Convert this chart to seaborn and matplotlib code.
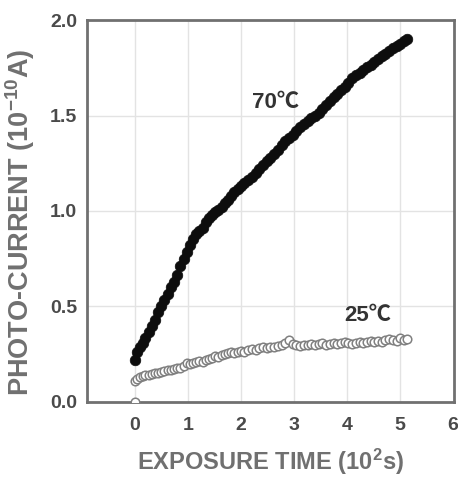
import numpy as np
import pandas as pd
import matplotlib.pyplot as plt
import seaborn as sns

# exposure time (10^2 s) en fotostroom (10^-10 A)
tijd = [0.00, 0.05, 0.10, 0.15, 0.20, 0.26, 0.32, 0.38, 0.44, 0.50,
        0.56, 0.62, 0.68, 0.74, 0.80, 0.86, 0.92, 0.98, 1.04, 1.10,
        1.16, 1.22, 1.28, 1.34, 1.40, 1.46, 1.52, 1.58, 1.64, 1.70,
        1.76, 1.82, 1.88, 1.94, 2.00, 2.07, 2.14, 2.21, 2.28, 2.35,
        2.42, 2.49, 2.56, 2.63, 2.70, 2.77, 2.84, 2.91, 2.98, 3.05,
        3.12, 3.19, 3.26, 3.33, 3.40, 3.47, 3.54, 3.61, 3.68, 3.75,
        3.82, 3.89, 3.96, 4.03, 4.10, 4.17, 4.24, 4.31, 4.38, 4.45,
        4.52, 4.59, 4.66, 4.73, 4.80, 4.87, 4.94, 5.01, 5.07, 5.13]

stroom_70 = [0.22, 0.26, 0.29, 0.31, 0.335, 0.365, 0.40, 0.43, 0.47, 0.50,
             0.535, 0.565, 0.60, 0.63, 0.665, 0.71, 0.75, 0.785, 0.82, 0.855,
             0.88, 0.895, 0.91, 0.94, 0.965, 0.98, 0.995, 1.005, 1.02, 1.04,
             1.06, 1.08, 1.10, 1.115, 1.13, 1.145, 1.165, 1.18, 1.20, 1.22,
             1.24, 1.26, 1.28, 1.30, 1.32, 1.345, 1.365, 1.385, 1.40, 1.42,
             1.44, 1.455, 1.47, 1.485, 1.50, 1.515, 1.535, 1.555, 1.575, 1.595,
             1.615, 1.635, 1.65, 1.67, 1.695, 1.71, 1.725, 1.74, 1.755, 1.765,
             1.78, 1.795, 1.81, 1.825, 1.84, 1.855, 1.865, 1.875, 1.89, 1.90]

stroom_25 = [0.11, 0.12, 0.13, 0.135, 0.14, 0.14, 0.145, 0.15, 0.15, 0.155,
             0.16, 0.165, 0.165, 0.17, 0.18, 0.175, 0.19, 0.205, 0.20, 0.205,
             0.21, 0.215, 0.21, 0.22, 0.225, 0.23, 0.24, 0.235, 0.245, 0.25,
             0.255, 0.26, 0.255, 0.26, 0.265, 0.26, 0.27, 0.275, 0.27, 0.28,
             0.285, 0.28, 0.29, 0.29, 0.295, 0.30, 0.31, 0.325, 0.305, 0.30,
             0.295, 0.30, 0.30, 0.305, 0.30, 0.305, 0.31, 0.30, 0.305, 0.31,
             0.305, 0.31, 0.315, 0.31, 0.305, 0.31, 0.315, 0.31, 0.315, 0.32,
             0.315, 0.32, 0.315, 0.325, 0.33, 0.325, 0.32, 0.335, 0.325, 0.33]

# los nulpunt van de 25 graden meting
tijd_nul = [0.0]
stroom_nul = [0.0]

labels = ['70\u2103', '25\u2103']

df70 = pd.DataFrame({'tijd': tijd, 'stroom': stroom_70})
df25 = pd.DataFrame({'tijd': tijd_nul + tijd, 'stroom': stroom_nul + stroom_25})

sns.set_style('white')
plt.rcParams['font.family'] = ['Liberation Sans', 'Noto Sans CJK SC', 'DejaVu Sans']
plt.rcParams['mathtext.fontset'] = 'custom'
plt.rcParams['mathtext.rm'] = 'Liberation Sans:bold'
plt.rcParams['mathtext.bf'] = 'Liberation Sans:bold'
plt.rcParams['mathtext.it'] = 'Liberation Sans:bold'
plt.rcParams['mathtext.default'] = 'bf'

fig = plt.figure(figsize=(4.58, 4.79), dpi=100)
ax = fig.add_axes([0.19, 0.161, 0.801, 0.797])

sns.scatterplot(data=df25, x='tijd', y='stroom', ax=ax, marker='o', s=38,
                facecolor='white', edgecolor='#808080', linewidth=1.1, zorder=3)
sns.scatterplot(data=df70, x='tijd', y='stroom', ax=ax, marker='o', s=58,
                color='#0d0d0d', edgecolor='#0d0d0d', linewidth=0.5, zorder=4)

ax.set_xlim(-0.9, 6.02)
ax.set_ylim(0, 2.0)
ax.set_xticks(range(0, 7))
ax.set_yticks([0.0, 0.5, 1.0, 1.5, 2.0])
ax.set_yticklabels(['0.0', '0.5', '1.0', '1.5', '2.0'])

for x in range(0, 6):
    ax.axvline(x, color='#e3e3e3', lw=1.0, zorder=0)
for y in [0.5, 1.0, 1.5]:
    ax.axhline(y, color='#e3e3e3', lw=1.0, zorder=0)

for sp in ax.spines.values():
    sp.set_color('#707070')
    sp.set_linewidth(2.0)

ax.tick_params(axis='both', direction='in', length=6, width=1.5, color='#707070',
               labelsize=14, labelcolor='#4a4a4a', top=False, right=False)
ax.tick_params(axis='x', pad=11)
ax.tick_params(axis='y', pad=7)
for t in ax.get_xticklabels() + ax.get_yticklabels():
    t.set_fontweight('bold')

ax.set_xlabel('EXPOSURE TIME (10$^{2}$s)', fontsize=17, fontweight='bold',
              color='#707070', labelpad=9)
ax.set_ylabel('PHOTO-CURRENT (10$^{-10}$A)', fontsize=19.5, fontweight='bold',
              color='#707070')
ax.yaxis.set_label_coords(-0.135, 0.47)

ax.text(2.66, 1.57, labels[0], fontsize=16, fontweight='bold', color='#333333',
        ha='center', va='center')
ax.text(4.40, 0.45, labels[1], fontsize=16, fontweight='bold', color='#333333',
        ha='center', va='center')

fig.savefig('out.png', dpi=100)
